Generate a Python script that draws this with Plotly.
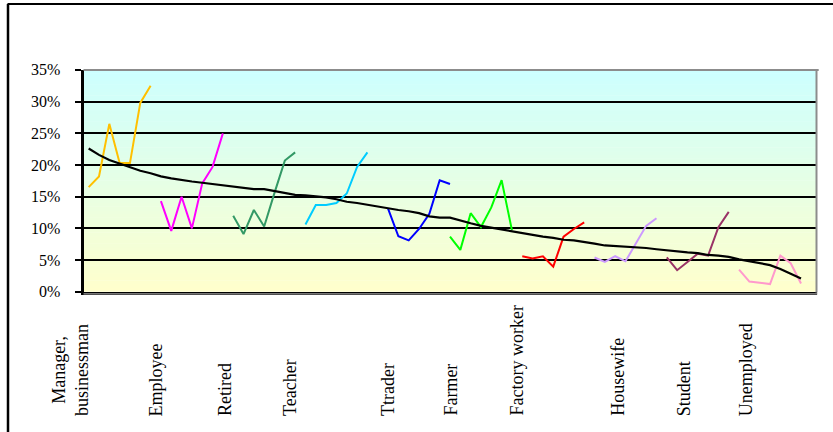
import plotly.graph_objects as go

# Occupational groups, share of respondents (%) over seven consecutive readings each
categories = ["Manager,<br>businessman", "Employee", "Retired", "Teacher", "Ttrader",
              "Farmer", "Factory worker", "Housewife", "Student", "Unemployed"]

manager = [16.5, 18.2, 26.5, 20.3, 20.3, 29.8, 32.5]
employee = [14.3, 9.6, 15.0, 10.0, 17.1, 19.7, 25.0]
retired = [12.0, 9.1, 12.9, 10.3, 15.6, 20.7, 22.0]
teacher = [10.6, 13.7, 13.7, 14.0, 15.5, 19.7, 22.0]
trader = [13.1, 8.75, 8.1, 9.9, 12.3, 17.6, 17.0]
farmer = [8.7, 6.6, 12.4, 10.2, 13.3, 17.6, 9.7]
factory_worker = [5.6, 5.25, 5.6, 3.95, 8.7, 9.9, 10.95]
housewife = [5.4, 4.7, 5.6, 4.8, 7.6, 10.4, 11.6]
student = [5.4, 3.4, 4.7, 6.0, 5.7, 10.2, 12.6]
unemployed = [3.5, 1.6, 1.4, 1.2, 5.7, 4.5, 1.3]

# first category slot of each group on the shared axis
group_start = [0, 7, 14, 21, 29, 35, 42, 49, 56, 63]
# category-axis position of each group label
label_pos = [-1.81, 6.52, 13.16, 19.46, 28.95, 35.06, 41.45, 51.24, 57.64, 63.65]

# overall declining trend across all slots
trend = [22.6, 21.6, 20.8, 20.2, 19.6, 19.1, 18.7, 18.2, 17.9, 17.6,
         17.4, 17.2, 17.0, 16.7, 16.6, 16.4, 16.2, 16.2, 15.9, 15.6,
         15.3, 15.2, 15.1, 14.9, 14.6, 14.2, 14.0, 13.7, 13.4, 13.2,
         12.9, 12.7, 12.4, 11.9, 11.7, 11.7, 11.2, 10.8, 10.4, 10.1,
         9.9, 9.6, 9.3, 9.0, 8.7, 8.5, 8.2, 8.1, 7.9, 7.6,
         7.3, 7.2, 7.2, 7.1, 6.9, 6.7, 6.5, 6.3, 6.2, 6.1,
         5.8, 5.7, 5.5, 5.1, 4.8, 4.6, 4.2, 3.6, 2.9, 2.1]

y_ticks = [0, 5, 10, 15, 20, 25, 30, 35]
y_tick_text = ["0%", "5%", "10%", "15%", "20%", "25%", "30%", "35%"]

series = [manager, employee, retired, teacher, trader, farmer,
          factory_worker, housewife, student, unemployed]
colors = ["#FFC000", "#FF00FF", "#339966", "#00CCFF", "#0000FF",
          "#00FF00", "#FF0000", "#CC99FF", "#993366", "#FF99CC"]

W, H = 833, 432
PX_L, PX_R = 83.5, 816.5
PX_T, PX_B = 70.0, 291.7
X_MIN, X_MAX = -0.5, 70.5
SLOT = (PX_R - PX_L) / (X_MAX - X_MIN)
SERIF = "Liberation Serif, Times New Roman, serif"

fig = go.Figure()

for name, vals, start, col in zip(categories, series, group_start, colors):
    fig.add_trace(go.Scatter(
        x=list(range(start, start + len(vals))), y=vals,
        mode="lines", name=name.replace("<br>", " "),
        line=dict(color=col, width=2), hoverinfo="x+y"))

fig.add_trace(go.Scatter(
    x=list(range(len(trend))), y=trend, mode="lines", name="trend",
    line=dict(color="black", width=2.2)))

shapes = []
# vertical gradient background: light cyan at top to light yellow at bottom
n_bands = 60
top_rgb = (204, 255, 255)
bot_rgb = (255, 255, 204)
for k in range(n_bands):
    t = (k + 0.5) / n_bands
    r = round(bot_rgb[0] + (top_rgb[0] - bot_rgb[0]) * t)
    g = round(bot_rgb[1] + (top_rgb[1] - bot_rgb[1]) * t)
    b = round(bot_rgb[2] + (top_rgb[2] - bot_rgb[2]) * t)
    shapes.append(dict(type="rect", xref="x domain", yref="y domain",
                       x0=0, x1=1, y0=k / n_bands, y1=(k + 1) / n_bands + 0.002,
                       fillcolor=f"rgb({r},{g},{b})", line=dict(width=0),
                       layer="below"))

# grey frame on top and right of the plot area, shadow under the baseline
shapes.append(dict(type="line", xref="x domain", yref="y domain", x0=0, x1=1.003,
                   y0=1, y1=1, line=dict(color="#8C8C8C", width=2), layer="above"))
shapes.append(dict(type="line", xref="x domain", yref="y domain", x0=1, x1=1,
                   y0=-0.004, y1=1, line=dict(color="#8C8C8C", width=2), layer="above"))
shapes.append(dict(type="line", xref="paper", yref="paper",
                   x0=PX_L / W, x1=(PX_R + 1) / W,
                   y0=1 - (PX_B + 2.2) / H, y1=1 - (PX_B + 2.2) / H,
                   line=dict(color="#A0A0A0", width=1.2), layer="above"))

# outer chart border
shapes.append(dict(type="line", xref="paper", yref="paper",
                   x0=7.5 / W, x1=1.0, y0=1 - 4 / H, y1=1 - 4 / H,
                   line=dict(color="black", width=2)))
shapes.append(dict(type="line", xref="paper", yref="paper",
                   x0=8 / W, x1=8 / W, y0=0, y1=1 - 4 / H,
                   line=dict(color="black", width=2.5)))

annotations = []
# rotated group labels under the axis; a label left of the first slot is
# anchored at the first slot and shifted by whole slot widths
for lab, pos in zip(categories, label_pos):
    anchor = max(pos, 0.0)
    annotations.append(dict(
        x=anchor, xref="x", xshift=(pos - anchor) * SLOT,
        y=1 - 418 / H, yref="paper",
        text=lab, textangle=-90, showarrow=False,
        xanchor="center", yanchor="bottom",
        font=dict(family=SERIF, size=18, color="black")))

# percentage labels beside the value axis ticks
for val, txt in zip(y_ticks, y_tick_text):
    annotations.append(dict(
        x=62 / W, xref="paper", y=val, yref="y",
        text=txt, showarrow=False, xanchor="right", yanchor="middle",
        font=dict(family=SERIF, size=16, color="black")))

fig.update_layout(
    width=W, height=H,
    margin=dict(l=0, r=0, t=0, b=0),
    font=dict(family=SERIF, color="black", size=16),
    paper_bgcolor="white",
    plot_bgcolor="rgba(0,0,0,0)",
    showlegend=False,
    shapes=shapes,
    annotations=annotations,
)
fig.update_xaxes(domain=[PX_L / W, PX_R / W], range=[X_MIN, X_MAX],
                 showgrid=False, zeroline=False, showticklabels=False,
                 ticks="", showline=True, linecolor="black", linewidth=2.5)
fig.update_yaxes(domain=[1 - PX_B / H, 1 - PX_T / H], range=[0, 35],
                 tickmode="array", tickvals=y_ticks, showticklabels=False,
                 showgrid=True, gridcolor="black", gridwidth=2,
                 zeroline=False, showline=True, linecolor="black", linewidth=2.5,
                 ticks="outside", ticklen=6, tickwidth=2, tickcolor="black")

fig.write_html("out.html")
